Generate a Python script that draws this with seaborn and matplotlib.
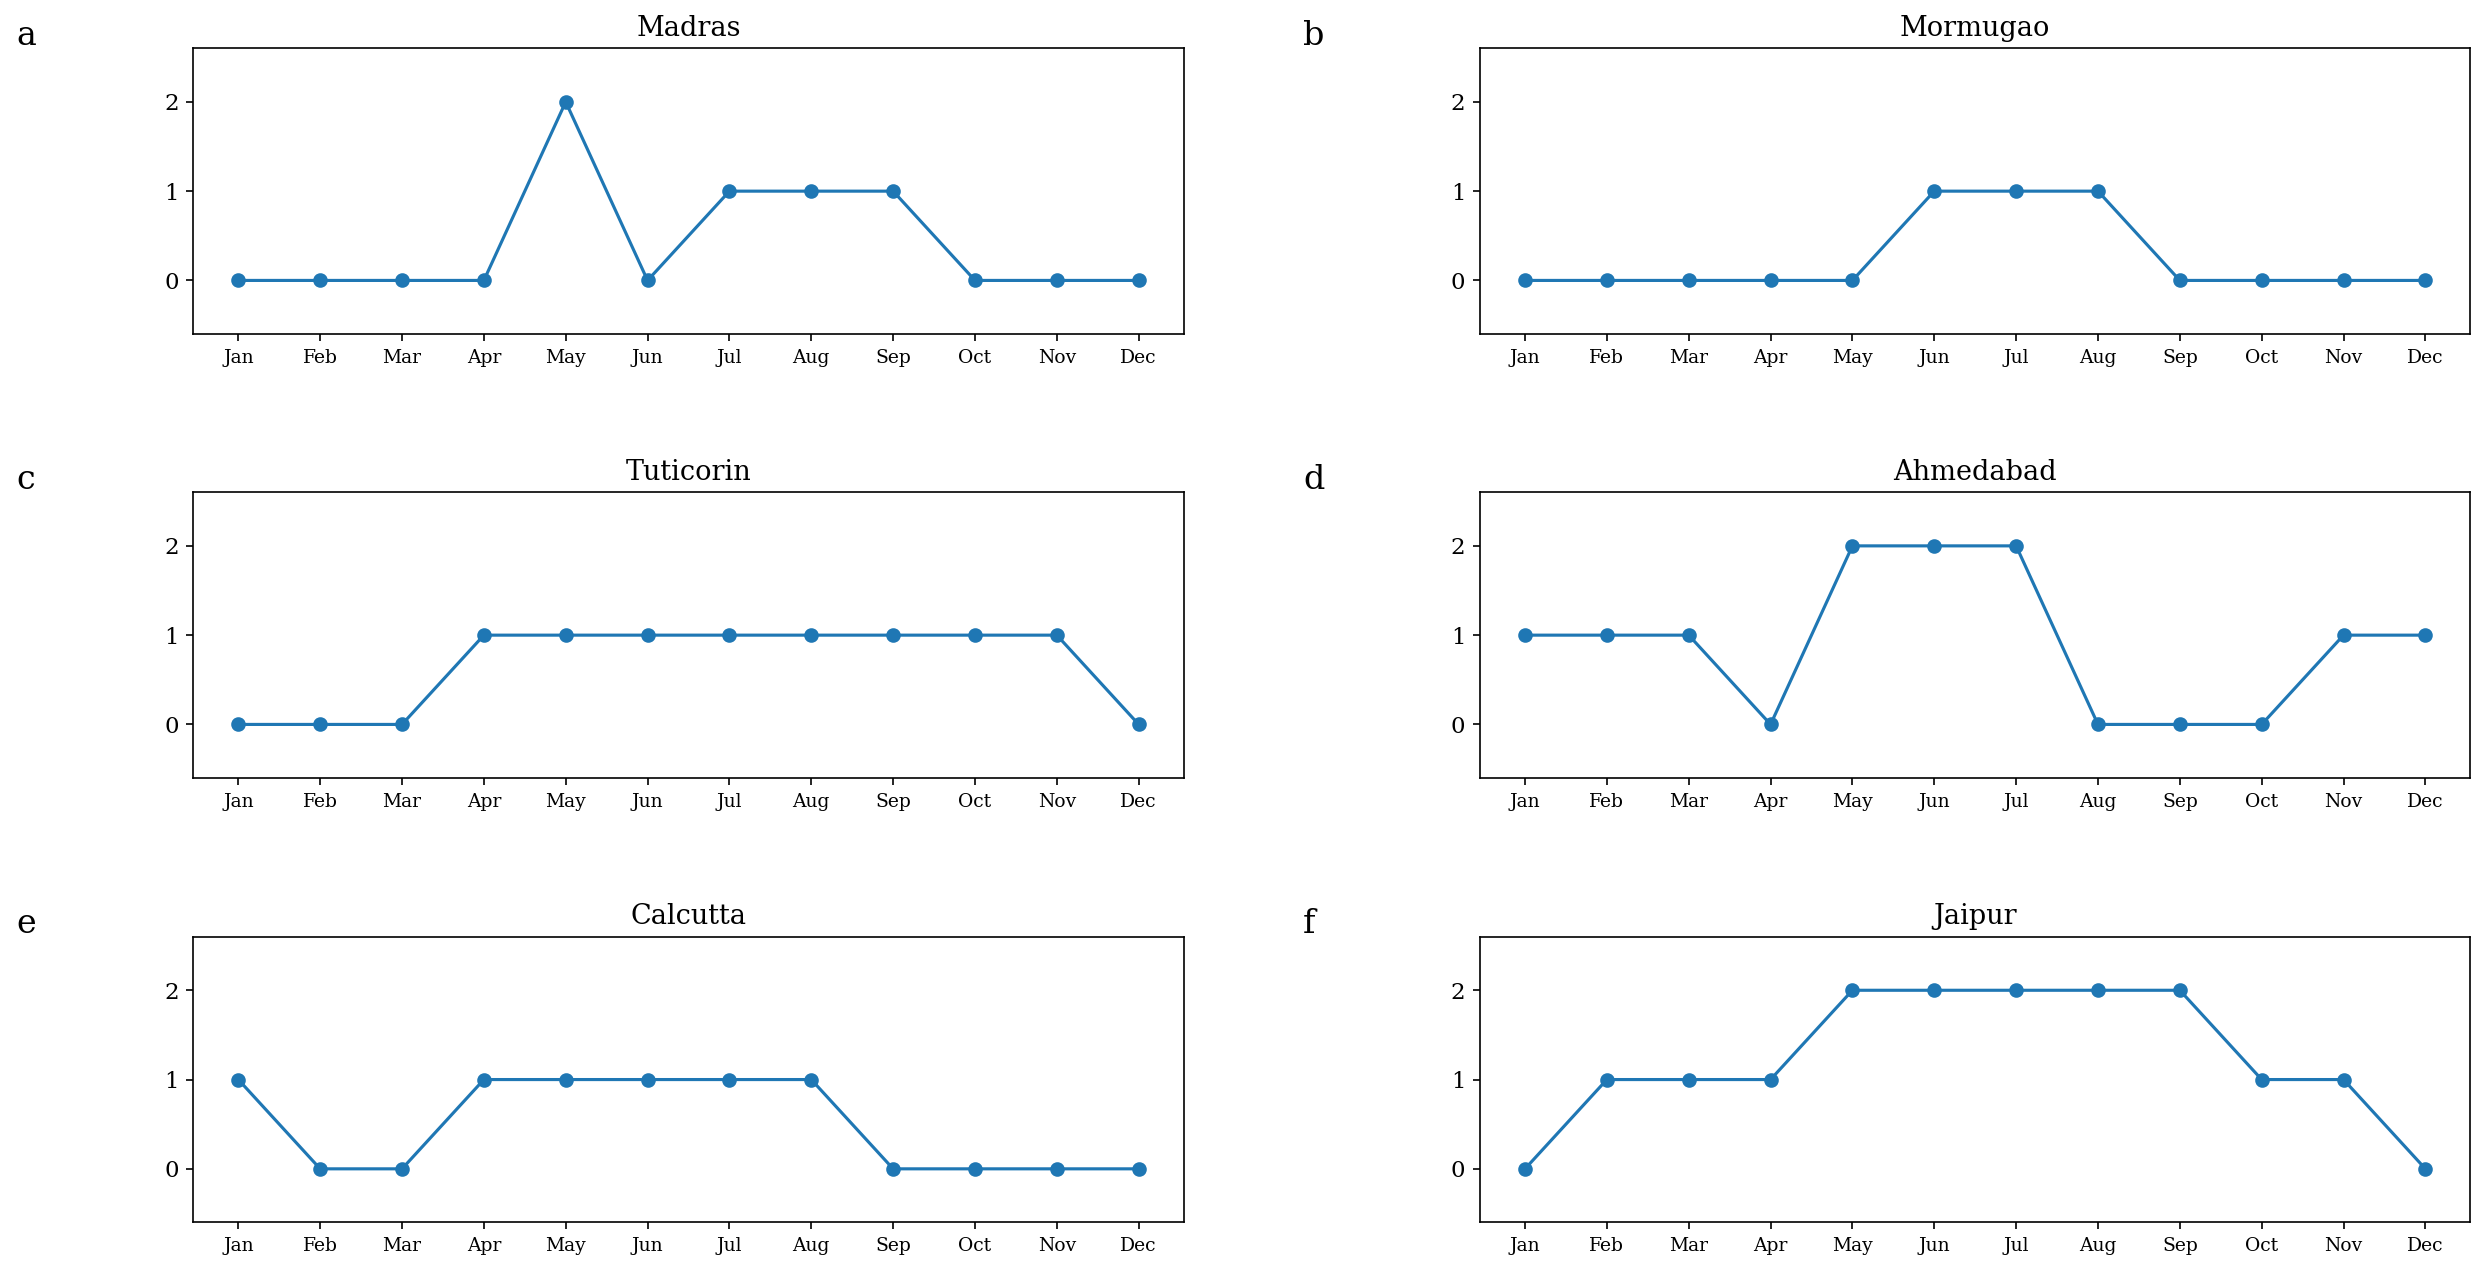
import matplotlib
matplotlib.use("Agg")
import matplotlib.pyplot as plt
import seaborn as sns
import numpy as np
import pandas as pd

months = ["Jan", "Feb", "Mar", "Apr", "May", "Jun", "Jul", "Aug", "Sep", "Oct", "Nov", "Dec"]
cities = ["Madras", "Mormugao", "Tuticorin", "Ahmedabad", "Calcutta", "Jaipur"]
letters = ["a", "b", "c", "d", "e", "f"]

madras = [0, 0, 0, 0, 2, 0, 1, 1, 1, 0, 0, 0]
mormugao = [0, 0, 0, 0, 0, 1, 1, 1, 0, 0, 0, 0]
tuticorin = [0, 0, 0, 1, 1, 1, 1, 1, 1, 1, 1, 0]
ahmedabad = [1, 1, 1, 0, 2, 2, 2, 0, 0, 0, 1, 1]
calcutta = [1, 0, 0, 1, 1, 1, 1, 1, 0, 0, 0, 0]
jaipur = [0, 1, 1, 1, 2, 2, 2, 2, 2, 1, 1, 0]

series = [madras, mormugao, tuticorin, ahmedabad, calcutta, jaipur]

plt.rcParams["font.family"] = ["DejaVu Serif"]

W, H = 2485, 1269
dpi = 150
fig = plt.figure(figsize=(W / dpi, H / dpi), dpi=dpi)

col_left = [193.3, 1480.0]
ax_w = 990.4
row_top = [48.3, 492.3, 936.7]
ax_h = 285.7

color = "#1f77b4"
for i, (city, vals, let) in enumerate(zip(cities, series, letters)):
    r, c = divmod(i, 2)
    x0 = col_left[c] / W
    y0 = 1 - (row_top[r] + ax_h) / H
    ax = fig.add_axes([x0, y0, ax_w / W, ax_h / H])
    df = pd.DataFrame({"m": np.arange(len(months)), "v": vals})
    sns.lineplot(data=df, x="m", y="v", ax=ax, color=color, marker="o",
                 markersize=6, markeredgewidth=1, markeredgecolor=color,
                 linewidth=1.5)
    ax.set_xticks(np.arange(len(months)))
    ax.set_xticklabels(months, fontsize=9)
    ax.set_yticks([0, 1, 2])
    ax.tick_params(axis="y", labelsize=11)
    ax.set_ylim(-0.6, 2.6)
    ax.set_xlim(-0.55, 11.55)
    ax.set_xlabel("")
    ax.set_ylabel("")
    ax.set_title(city, fontsize=13)
    ax.text(-0.1786, 1.012, let, transform=ax.transAxes, fontsize=16,
            va="baseline", ha="left")

fig.savefig("out.png", dpi=dpi)
